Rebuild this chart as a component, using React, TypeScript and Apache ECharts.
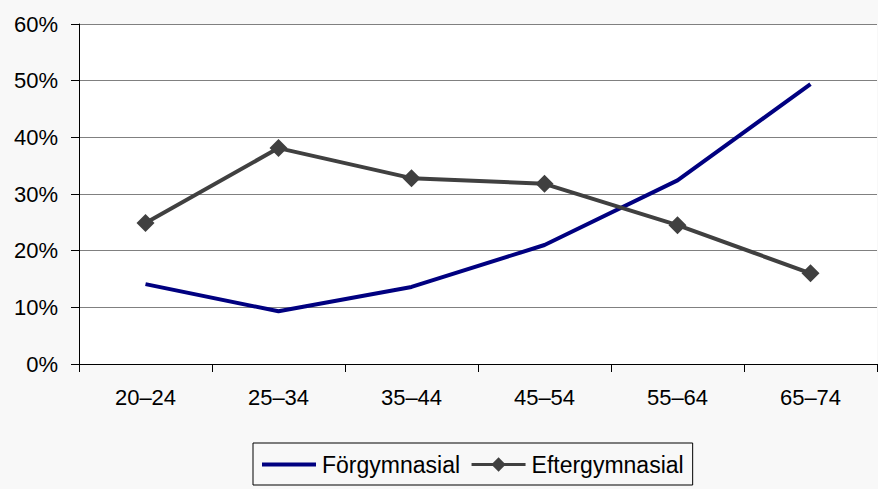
import React, { useEffect, useRef } from "react";
import * as echarts from "echarts";

const categories = ["20–24", "25–34", "35–44", "45–54", "55–64", "65–74"];
const forgymnasial = [14.1, 9.3, 13.6, 21.0, 32.4, 49.4];
const eftergymnasial = [24.9, 38.1, 32.8, 31.8, 24.5, 16.0];
const yTicks = { min: 0, max: 60, interval: 10 };

export default function App() {
  const ref = useRef<HTMLDivElement>(null);
  useEffect(() => {
    const chart = echarts.init(ref.current!, null, { renderer: "svg" });
    const font = "'Liberation Sans', Arial, sans-serif";
    chart.setOption({
      animation: false,
      backgroundColor: "#f8f8f8",
      textStyle: { fontFamily: font },
      grid: {
        left: 79,
        right: 1,
        top: 24,
        bottom: 125,
        show: true,
        backgroundColor: "#ffffff",
        borderWidth: 0,
      },
      xAxis: {
        type: "category",
        data: categories,
        boundaryGap: true,
        axisLine: { lineStyle: { color: "#000", width: 1 } },
        axisTick: { show: true, length: 8, lineStyle: { color: "#000" } },
        axisLabel: { color: "#000", fontSize: 22, margin: 22, fontFamily: font },
        splitLine: { show: false },
      },
      yAxis: {
        type: "value",
        min: yTicks.min,
        max: yTicks.max,
        interval: yTicks.interval,
        axisLine: { show: true, lineStyle: { color: "#000", width: 1 } },
        axisTick: { show: true, length: 8, lineStyle: { color: "#000" } },
        axisLabel: { color: "#000", fontSize: 22, margin: 21, formatter: "{value}%", fontFamily: font },
        splitLine: { show: true, lineStyle: { color: "#808080", width: 1 } },
      },
      legend: {
        left: 253,
        top: 443,
        orient: "horizontal",
        borderColor: "#000",
        borderWidth: 1,
        padding: [10, 9, 9, 9],
        itemWidth: 54,
        itemHeight: 18,
        itemGap: 10,
        lineStyle: { width: 3 },
        textStyle: { color: "#000", fontSize: 23, fontFamily: font, padding: [0, 0, 0, 1] },
        data: [
          { name: "Förgymnasial", icon: "path://M0,0 L54,0 L54,4 L0,4 Z" },
          { name: "Eftergymnasial" },
        ],
      },
      series: [
        {
          name: "Förgymnasial",
          type: "line",
          data: forgymnasial,
          symbol: "none",
          lineStyle: { color: "#000080", width: 4 },
          itemStyle: { color: "#000080" },
        },
        {
          name: "Eftergymnasial",
          type: "line",
          data: eftergymnasial,
          symbol: "diamond",
          symbolSize: 18,
          lineStyle: { color: "#404040", width: 4 },
          itemStyle: { color: "#404040" },
        },
      ],
    });
    return () => chart.dispose();
  }, []);
  return (
    <div
      ref={ref}
      style={{ position: "fixed", left: 0, top: 0, width: 878, height: 489 }}
    />
  );
}
